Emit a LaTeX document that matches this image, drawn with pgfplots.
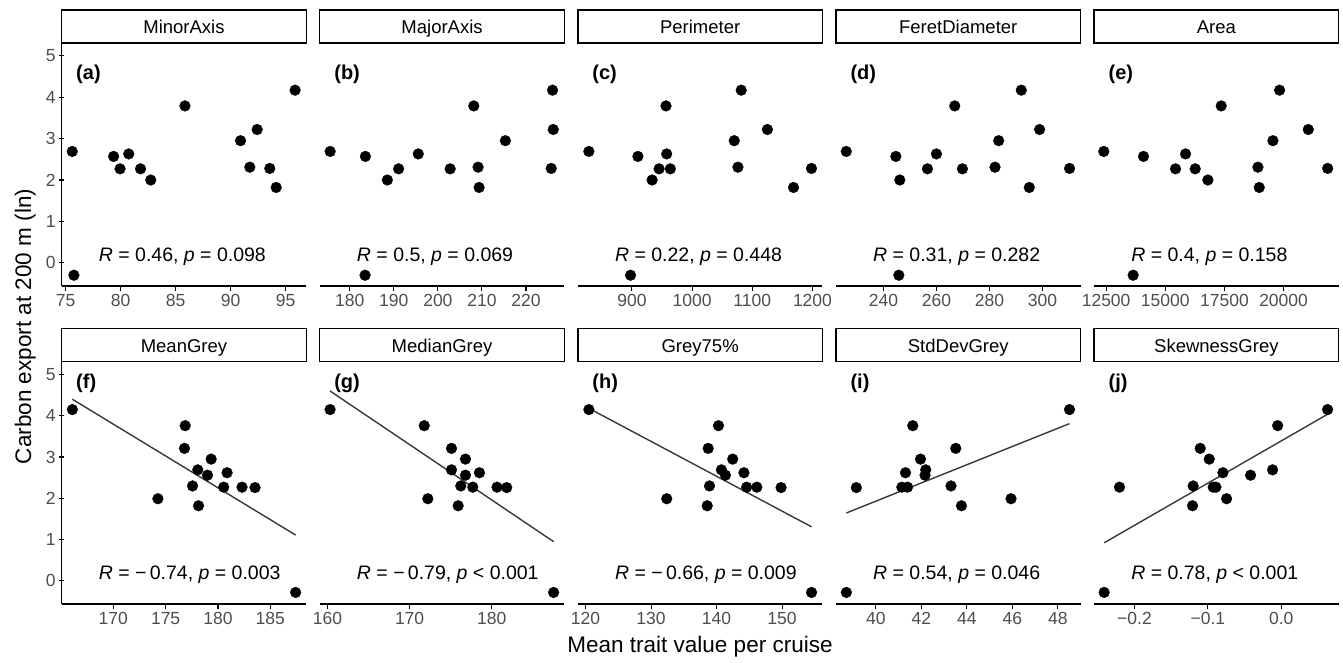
\documentclass[border=0pt]{standalone}
\usepackage{fontspec}
\setmainfont{Liberation Sans}
\usepackage{pgfplots}
\pgfplotsset{compat=1.18}
\definecolor{tickgrey}{HTML}{4D4D4D}
\definecolor{linegrey}{HTML}{383838}
\pgfplotsset{
  panel/.style={
    scale only axis, width=244.5pt, height=243pt,
    ymin=-0.56, ymax=5.31,
    axis x line=bottom,
    axis line style={-, line width=1.2pt, black},
    tick style={line width=1.1pt, black},
    tick align=outside, major tick length=5pt,
    ticklabel style={font=\fontsize{17.5}{18}\selectfont, text=tickgrey},
    /pgf/number format/assume math mode=true,
    scaled x ticks=false,
    clip=false,
  },
  firstcol/.style={axis y line=left, ytick={0,1,2,3,4,5}, yticklabels={0,1,2,3,4,5},
    axis line style={-}, y axis line style={-}, every outer y axis line/.append style={-}},
  othercol/.style={axis y line=none, ytick=\empty},
  pts/.style={only marks, mark=*, mark size=5.4pt, mark options={solid, fill=black, draw=black, line width=0.3pt}},
  fit/.style={no marks, linegrey, line width=1.4pt},
}
\newcommand{\strip}[2]{%
  \draw[line width=1.3pt, fill=white] (rel axis cs:0,1) rectangle ([yshift=#2]rel axis cs:1,1);
  \node[anchor=base, inner sep=0pt, font=\fontsize{18.5}{19}\selectfont] at ([yshift=9.3pt]rel axis cs:0.5,1) {#1};}
\newcommand{\ann}[4]{%
  \node[anchor=west, font=\bfseries\fontsize{20}{20}\selectfont] at (rel axis cs:0.045,#4) {(#1)};
  \node[anchor=base west, font=\fontsize{19.5}{20}\selectfont] at (rel axis cs:0.1376,0.101) {\textit{R} = #2, \textit{p} #3};}
\begin{document}
\begin{tikzpicture}
\useasboundingbox (0,0) rectangle (1343pt,663pt);
% ---------- top row ----------
\begin{axis}[panel, firstcol, at={(61.7pt,377pt)}, anchor=south west, xmin=74.64, xmax=96.88,
  xtick={75,80,85,90,95}, xticklabels={75,80,85,90,95}]
\addplot[pts] coordinates {(75.60,2.69) (75.75,-0.30) (79.36,2.57) (79.95,2.27) (80.74,2.63) (81.81,2.27) (82.74,2.00) (85.85,3.79) (90.91,2.95) (91.75,2.31) (92.42,3.22) (93.57,2.28) (94.15,1.82) (95.87,4.17)};
\strip{MinorAxis}{33pt}
\ann{a}{0.46}{= 0.098}{0.872}
\end{axis}
\begin{axis}[panel, othercol, at={(319.8pt,377pt)}, anchor=south west, xmin=173.2, xmax=228.7,
  xtick={180,190,200,210,220}, xticklabels={180,190,200,210,220}]
\addplot[pts] coordinates {(175.55,2.69) (183.55,2.57) (188.53,2.00) (191.09,2.27) (195.55,2.63) (202.79,2.27) (209.13,2.31) (209.36,1.82) (208.15,3.79) (215.32,2.95) (226.03,4.17) (226.19,3.22) (225.73,2.28) (183.47,-0.30)};
\strip{MajorAxis}{33pt}
\ann{b}{0.5}{= 0.069}{0.872}
\end{axis}
\begin{axis}[panel, othercol, at={(577.9pt,377pt)}, anchor=south west, xmin=810.2, xmax=1216.5,
  xtick={900,1000,1100,1200}, xticklabels={900,1000,1100,1200}]
\addplot[pts] coordinates {(828.4,2.69) (909.9,2.57) (933.5,2.00) (945.1,2.27) (957.7,2.63) (963.8,2.27) (956.6,3.79) (1070.0,2.95) (1076.1,2.31) (1081.6,4.17) (1125.1,3.22) (1168.5,1.82) (1198.3,2.28) (897.7,-0.30)};
\strip{Perimeter}{33pt}
\ann{c}{0.22}{= 0.448}{0.872}
\end{axis}
\begin{axis}[panel, othercol, at={(836.0pt,377pt)}, anchor=south west, xmin=222.1, xmax=314.3,
  xtick={240,260,280,300}, xticklabels={240,260,280,300}]
\addplot[pts] coordinates {(225.96,2.69) (244.66,2.57) (246.16,2.00) (256.58,2.27) (259.97,2.63) (266.87,3.79) (269.76,2.27) (282.06,2.31) (283.44,2.95) (291.97,4.17) (294.98,1.82) (298.87,3.22) (310.17,2.28) (245.79,-0.30)};
\strip{FeretDiameter}{33pt}
\ann{d}{0.31}{= 0.282}{0.872}
\end{axis}
\begin{axis}[panel, othercol, at={(1094.1pt,377pt)}, anchor=south west, xmin=11992, xmax=22326,
  xtick={12500,15000,17500,20000}, xticklabels={12500,15000,17500,20000}]
\addplot[pts] coordinates {(12401,2.69) (14079,2.57) (15433,2.27) (15856,2.63) (16265,2.27) (16801,2.00) (17365,3.79) (18916,2.31) (18972,1.82) (19550,2.95) (19832,4.17) (21045,3.22) (21863,2.28) (13642,-0.30)};
\strip{Area}{33pt}
\ann{e}{0.4}{= 0.158}{0.872}
\end{axis}
% ---------- bottom row ----------
\begin{axis}[panel, firstcol, height=242.3pt, at={(61.7pt,59pt)}, anchor=south west, xmin=165.07, xmax=188.43,
  xtick={170,175,180,185}, xticklabels={170,175,180,185}]
\addplot[fit] coordinates {(166.09,4.40) (187.42,1.11)};
\addplot[pts] coordinates {(166.09,4.15) (176.87,3.76) (176.80,3.21) (179.35,2.95) (178.07,2.69) (180.87,2.62) (179.0,2.56) (177.57,2.30) (180.55,2.27) (182.30,2.27) (183.54,2.26) (174.26,1.99) (178.14,1.82) (187.42,-0.28)};
\strip{MeanGrey}{33.5pt}
\ann{f}{−\,0.74}{= 0.003}{0.909}
\end{axis}
\begin{axis}[panel, othercol, height=242.3pt, at={(319.8pt,59pt)}, anchor=south west, xmin=159.07, xmax=188.83,
  xtick={160,170,180}, xticklabels={160,170,180}]
\addplot[fit] coordinates {(160.32,4.60) (187.53,0.95)};
\addplot[pts] coordinates {(160.32,4.15) (171.78,3.76) (175.10,3.21) (176.80,2.95) (175.10,2.69) (176.80,2.56) (178.50,2.62) (176.23,2.30) (177.69,2.27) (180.64,2.27) (181.82,2.26) (172.22,1.99) (175.91,1.82) (187.53,-0.28)};
\strip{MedianGrey}{33.5pt}
\ann{g}{−\,0.79}{< 0.001}{0.909}
\end{axis}
\begin{axis}[panel, othercol, height=242.3pt, at={(577.9pt,59pt)}, anchor=south west, xmin=118.83, xmax=156.16,
  xtick={120,130,140,150}, xticklabels={120,130,140,150}]
\addplot[fit] coordinates {(120.51,4.18) (154.50,1.31)};
\addplot[pts] coordinates {(120.51,4.15) (140.29,3.76) (138.72,3.21) (142.46,2.95) (140.74,2.69) (141.35,2.56) (144.18,2.62) (138.92,2.30) (144.59,2.27) (146.15,2.27) (149.85,2.26) (132.39,1.99) (138.57,1.82) (154.50,-0.28)};
\strip{Grey75\%}{33.5pt}
\ann{h}{−\,0.66}{= 0.009}{0.909}
\end{axis}
\begin{axis}[panel, othercol, height=242.3pt, at={(836.0pt,59pt)}, anchor=south west, xmin=38.245, xmax=48.995,
  xtick={40,42,44,46,48}, xticklabels={40,42,44,46,48}]
\addplot[fit] coordinates {(38.70,1.645) (48.51,3.81)};
\addplot[pts] coordinates {(48.51,4.15) (41.62,3.76) (43.51,3.21) (41.96,2.95) (42.19,2.69) (41.30,2.62) (42.16,2.56) (43.30,2.30) (41.14,2.27) (41.39,2.27) (39.14,2.26) (45.94,1.99) (43.76,1.82) (38.70,-0.28)};
\strip{StdDevGrey}{33.5pt}
\ann{i}{0.54}{= 0.046}{0.909}
\end{axis}
\begin{axis}[panel, othercol, height=242.3pt, at={(1094.1pt,59pt)}, anchor=south west, xmin=-0.255, xmax=0.0782,
  xtick={-0.2,-0.1,0}, xticklabels={−0.2,−0.1,0.0}]
\addplot[fit] coordinates {(-0.2413,0.923) (0.0632,4.037)};
\addplot[pts] coordinates {(0.0632,4.15) (-0.0049,3.76) (-0.1104,3.21) (-0.0981,2.95) (-0.0795,2.62) (-0.0418,2.56) (-0.0118,2.69) (-0.12,2.30) (-0.0927,2.27) (-0.089,2.27) (-0.2204,2.27) (-0.0745,1.99) (-0.1209,1.82) (-0.2413,-0.28)};
\strip{SkewnessGrey}{33.5pt}
\ann{j}{0.78}{< 0.001}{0.909}
\end{axis}
% ---------- axis titles ----------
\node[rotate=90, anchor=base, font=\fontsize{22.5}{23}\selectfont] at (31pt,336.5pt) {Carbon export at 200 m (ln)};
\node[anchor=base, font=\fontsize{22.5}{23}\selectfont] at (700pt,10.3pt) {Mean trait value per cruise};
\end{tikzpicture}
\end{document}
